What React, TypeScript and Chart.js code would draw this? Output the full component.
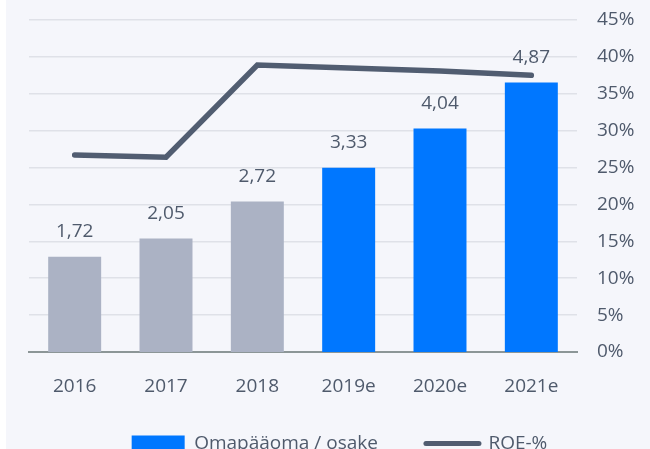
import React, { useEffect, useRef } from "react";
import { Chart, registerables } from "chart.js";

Chart.register(...registerables);

const categories = ["2016", "2017", "2018", "2019e", "2020e", "2021e"];
const equityPerShare = [1.72, 2.05, 2.72, 3.33, 4.04, 4.87];
const roePercent = [26.7, 26.4, 38.9, 38.5, 38.1, 37.5];
const barColors = ["#abb2c4", "#abb2c4", "#abb2c4", "#0077ff", "#0077ff", "#0077ff"];
const rightTicksMax = 45;
const leftAxisMax = 6;

const FONT = "'Open Sans', sans-serif";
const FS = 19;
const TEXT = "#4f5a6c";
const LINE = "#515d71";
const LEGEND_GAP = 48;
const LEGEND_LIFT = 10;

const valueLabels = {
  id: "valueLabels",
  afterDatasetsDraw(chart: any) {
    const meta = chart.getDatasetMeta(0);
    const ctx = chart.ctx;
    ctx.save();
    ctx.font = FS + "px " + FONT;
    ctx.fillStyle = TEXT;
    ctx.textAlign = "center";
    ctx.textBaseline = "middle";
    meta.data.forEach((bar: any, i: number) => {
      const txt = equityPerShare[i].toFixed(2).replace(".", ",");
      ctx.fillText(txt, bar.x, bar.y - 25);
    });
    ctx.restore();
  },
};

const liftLegend = {
  id: "liftLegend",
  afterLayout(chart: any) {
    const lg = chart.legend;
    if (lg) {
      lg.top -= LEGEND_LIFT;
      lg.bottom -= LEGEND_LIFT;
    }
  },
};

export default function App() {
  const ref = useRef<HTMLCanvasElement>(null);
  useEffect(() => {
    if (!ref.current) return;
    const chart = new Chart(ref.current, {
      type: "bar",
      data: {
        labels: categories,
        datasets: [
          {
            type: "bar",
            label: "Omapääoma / osake",
            data: equityPerShare,
            backgroundColor: barColors,
            yAxisID: "y",
            barPercentage: 0.58,
            categoryPercentage: 1,
          },
          {
            type: "line",
            label: "ROE-%",
            data: roePercent,
            borderColor: LINE,
            backgroundColor: LINE,
            borderWidth: 5.5,
            pointRadius: 0,
            borderCapStyle: "round",
            borderJoinStyle: "miter",
            tension: 0,
            yAxisID: "y1",
          } as any,
        ],
      },
      options: {
        animation: false,
        responsive: true,
        maintainAspectRatio: false,
        layout: { padding: { top: 20, left: 23, right: 0, bottom: 0 } },
        plugins: {
          tooltip: { enabled: false },
          legend: {
            position: "bottom",
            labels: {
              font: { family: FONT, size: FS },
              color: TEXT,
              usePointStyle: true,
              pointStyleWidth: 53,
              boxHeight: 16,
              padding: LEGEND_GAP,
              generateLabels: () => [
                {
                  text: "Omapääoma / osake",
                  fillStyle: "#0077ff",
                  strokeStyle: "#0077ff",
                  lineWidth: 0,
                  pointStyle: "rect",
                  fontColor: TEXT,
                  datasetIndex: 0,
                } as any,
                {
                  text: "ROE-%",
                  fillStyle: LINE,
                  strokeStyle: LINE,
                  lineWidth: 5,
                  lineCap: "round",
                  pointStyle: "line",
                  fontColor: TEXT,
                  datasetIndex: 1,
                } as any,
              ],
            },
          },
        },
        scales: {
          x: {
            grid: { display: false },
            border: { color: "#8c9697", width: 2 },
            ticks: { font: { family: FONT, size: FS }, color: TEXT, padding: 15 },
            afterFit: (s: any) => {
              s.height = 44;
            },
          },
          y: {
            display: false,
            min: 0,
            max: leftAxisMax,
          },
          y1: {
            position: "right",
            min: 0,
            max: rightTicksMax,
            grid: { color: "#dfe1e8", drawTicks: false, lineWidth: 1.5 },
            border: { display: false },
            ticks: {
              stepSize: 5,
              padding: 20,
              font: { family: FONT, size: FS },
              color: TEXT,
              callback: (v: any) => v + "%",
            },
            afterFit: (s: any) => {
              s.width = 73;
              s.paddingTop = 0;
              s.paddingBottom = 0;
            },
          },
        },
      },
      plugins: [valueLabels, liftLegend],
    });
    return () => chart.destroy();
  }, []);
  return (
    <div
      style={{
        position: "absolute",
        left: 6,
        top: 0,
        width: 644,
        height: 449,
        overflow: "hidden",
        background: "#f5f6fb",
      }}
    >
      <div style={{ position: "relative", width: 644, height: 473 }}>
        <canvas ref={ref} />
      </div>
    </div>
  );
}
